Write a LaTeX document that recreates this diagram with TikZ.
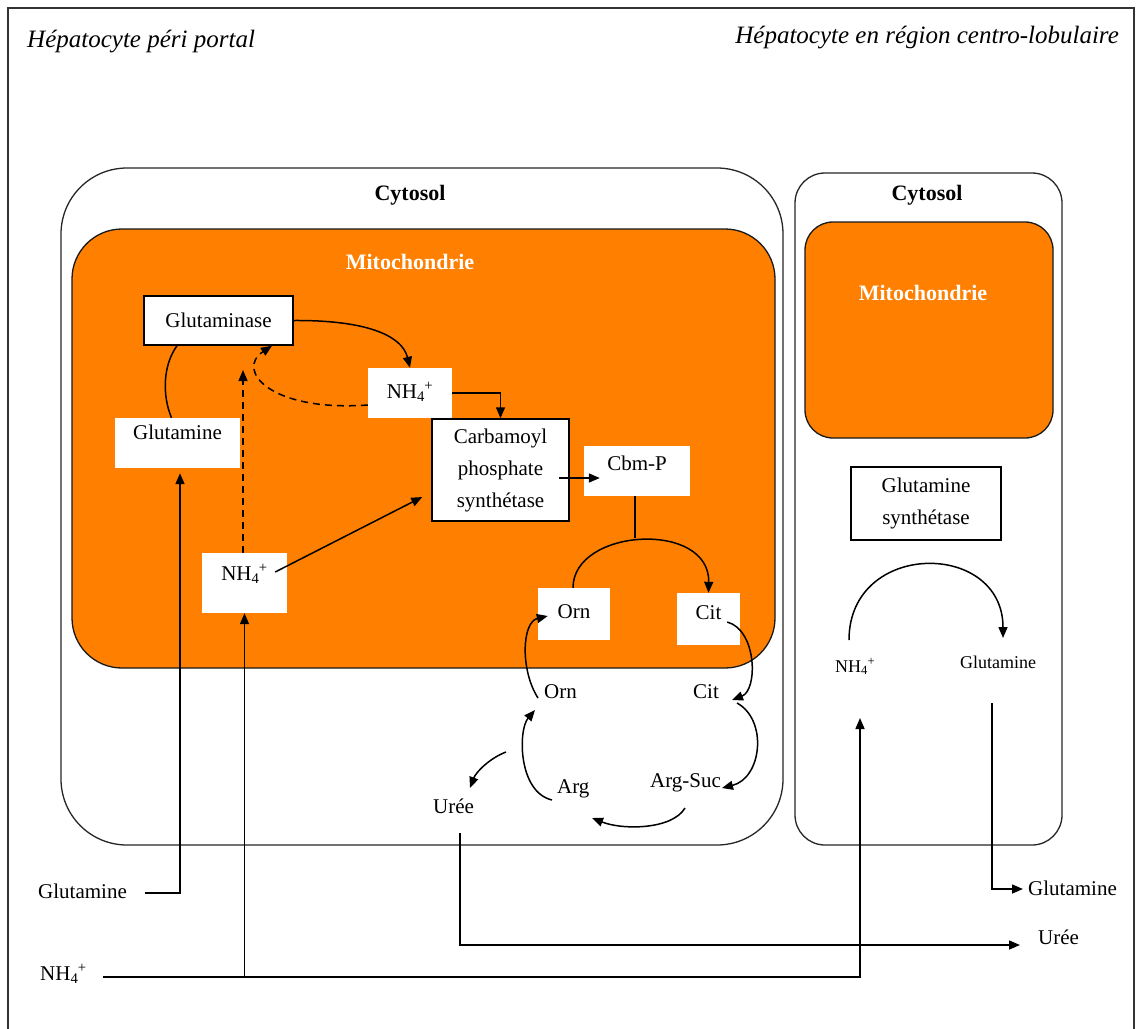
\documentclass[tikz,border=0pt]{standalone}
\usepackage{fontspec}
\setmainfont{Liberation Serif}
\usetikzlibrary{arrows.meta}
\definecolor{mito}{RGB}{255,128,0}
\newcommand\nhq{NH\textsubscript{4}\kern-0.5pt\textsuperscript{+}}
\begin{document}
\begin{tikzpicture}[x=1pt,y=-1pt,
  lbl/.style={font=\fontsize{21}{32}\selectfont, inner sep=0pt},
  small/.style={font=\fontsize{18}{24}\selectfont, inner sep=0pt},
  ttl/.style={font=\fontsize{25}{30}\selectfont\itshape, inner sep=0pt},
  hdr/.style={font=\fontsize{22}{26}\selectfont\bfseries, inner sep=0pt},
  wbox/.style={lbl, fill=white},
  bbox/.style={wbox, draw=black, line width=1.5pt},
  up/.style={text height=14pt, text depth=#1},
  ln/.style={line width=1.5pt},
  arr/.style={ln, -{Triangle[length=11pt,width=9pt]}},
  dsh/.style={arr, dash pattern=on 7pt off 5pt},
  cell/.style={line width=1.3pt, draw=black!85}]
\useasboundingbox (0,0) rectangle (1139,1028);
\fill[white] (0,0) rectangle (1139,1028);
% frame
\draw[line width=2pt, black!80] (8,1040) |- (1134,8) -- (1134,1040);
\node[ttl, anchor=base west] (t1) at (27,47) {Hépatocyte péri portal};
\node[ttl, anchor=base east] (t2) at (1119,43) {Hépatocyte en région centro-lobulaire};
% compartments
\draw[cell, rounded corners=66pt] (61,168) rectangle (783,845);
\draw[cell, fill=mito, draw=black!90, rounded corners=50pt] (72,229) rectangle (775,668);
\draw[cell, rounded corners=30pt] (795,173) rectangle (1062,845);
\draw[cell, fill=mito, draw=black!90, rounded corners=28pt] (805,222) rectangle (1053,438);
\node[hdr, anchor=base] (cyL) at (410,200) {Cytosol};
\node[hdr, anchor=base, text=white] (miL) at (410,269) {Mitochondrie};
\node[hdr, anchor=base] (cyR) at (927,200) {Cytosol};
\node[hdr, anchor=base, text=white] (miR) at (923,300) {Mitochondrie};
% boxes in left mitochondrion
\node[bbox, minimum width=149pt, minimum height=49pt] (glnase) at (218.5,320.5) {Glutaminase};
\node[wbox, minimum width=125pt, minimum height=50pt, up=22pt] (glnL) at (177.5,443) {Glutamine};
\node[wbox, minimum width=84pt, minimum height=50pt, up=4pt] (nhA) at (410,393) {\nhq};
\node[wbox, minimum width=85pt, minimum height=60pt, up=20pt] (nhB) at (244.5,583) {\nhq};
\node[bbox, minimum width=137pt, minimum height=102pt, align=center] (cps) at (500.5,470) {Carbamoyl\\phosphate\\synthétase};
\node[wbox, minimum width=106pt, minimum height=50pt, up=16pt] (cbmp) at (637,471) {Cbm-P};
\node[wbox, minimum width=72pt, minimum height=52pt, up=6pt] (ornA) at (574,614) {Orn};
\node[wbox, minimum width=63pt, minimum height=52pt, up=14pt] (citA) at (708.5,619) {Cit};
% cytosolic labels of the urea cycle
\node[lbl, anchor=base west] (ornB) at (544,698) {Orn};
\node[lbl, anchor=base west] (citB) at (693,698) {Cit};
\node[lbl, anchor=base west] (argsuc) at (650,787) {Arg-Suc};
\node[lbl, anchor=base west] (argN) at (557,793) {Arg};
\node[lbl, anchor=base west] (ureeA) at (433,813) {Urée};
% right cell
\node[bbox, minimum width=150pt, minimum height=73pt, align=center] (gsyn) at (926,503.5) {Glutamine\\synthétase};
\node[small, anchor=base west] (nhR) at (835,672) {\nhq};
\node[small, anchor=base west] (glnR) at (960,668) {Glutamine};
% outside labels
\node[lbl, anchor=base west] (glnBot) at (38,898) {Glutamine};
\node[lbl, anchor=base west] (nhBot) at (40,980) {\nhq};
\node[lbl, anchor=base west] (glnOut) at (1028,895) {Glutamine};
\node[lbl, anchor=base west] (ureeOut) at (1038,944) {Urée};
% coordinates
\coordinate (dtip) at (243,370);
\coordinate (cyc) at (635,538);
\coordinate (nhL) at ([shift={(63pt,3pt)}]nhBot.base west);
% connectors in the mitochondrion
\draw[ln] ([xshift=-6pt]glnL.north) .. controls (162,395) and (163,365) .. ([xshift=-41.5pt]glnase.south);
\draw[arr] (glnase.east) .. controls (365,320) and (402,335) .. (nhA.north);
\draw[dsh] ([yshift=-12pt]nhA.west) .. controls (270,412) and (235,370) .. ([xshift=53.5pt]glnase.south);
\draw[dsh] ([xshift=-1.5pt]nhB.north) -- (dtip);
\draw[arr] ([shift={(-12pt,11pt)}]nhB.east) -- ([shift={(-9pt,-27pt)}]cps.west);
\draw[arr] (nhA.east) -| (cps.north);
\draw[arr] ([shift={(-11pt,-8pt)}]cps.east) -- ([shift={(16pt,-7pt)}]cbmp.west);
\draw[ln] ([xshift=-2pt]cbmp.south) -- (cyc);
\draw[arr] ([xshift=-1pt]ornA.north) .. controls (573,528) and (710,520) .. (citA.north);
\draw[arr] ([shift={(-13pt,-3pt)}]citA.east) .. controls (757,630) and (758,690) .. ([shift={(39pt,-2pt)}]citB.base west);
% cytosolic urea cycle
\draw[arr] ([shift={(44pt,-5pt)}]citB.base west) .. controls (768,720) and (762,778) .. ([shift={(72pt,-1pt)}]argsuc.base west);
\draw[arr] ([shift={(35pt,-21pt)}]argsuc.base west) .. controls (672,830) and (622,830) .. ([shift={(35pt,-25pt)}]argN.base west);
\draw[arr] ([shift={(-5pt,-7pt)}]argN.base west) .. controls (518,792) and (518,730) .. ([shift={(-9pt,-12pt)}]ornB.base west);
\draw[arr] ([shift={(-6pt,0pt)}]ornB.base west) .. controls (520,670) and (522,622) .. ([shift={(10pt,-2pt)}]ornA.west);
\draw[arr] ([shift={(-51pt,41pt)}]argN.base west) .. controls (490,758) and (476,772) .. ([shift={(37pt,25pt)}]ureeA.base west);
% right cell
\draw[arr] ([shift={(14pt,32pt)}]nhR.base west) .. controls (849,540) and (1003,540) .. ([shift={(43pt,30pt)}]glnR.base west);
% exchanges
\draw[arr] ([shift={(107pt,5pt)}]glnBot.base west) -| ([shift={(2.5pt,-5pt)}]glnL.south);
\draw[arr] (nhL) -| ([shift={(25pt,-46pt)}]nhR.base west);
\draw[arr] (nhB.south |- nhL) -- (nhB.south);
\draw[arr] ([shift={(32pt,-35pt)}]glnR.base west) |- ([shift={(-5pt,6pt)}]glnOut.base west);
\draw[arr] ([shift={(27pt,-20pt)}]ureeA.base west) |- ([shift={(-18pt,-1pt)}]ureeOut.base west);
\end{tikzpicture}
\end{document}
